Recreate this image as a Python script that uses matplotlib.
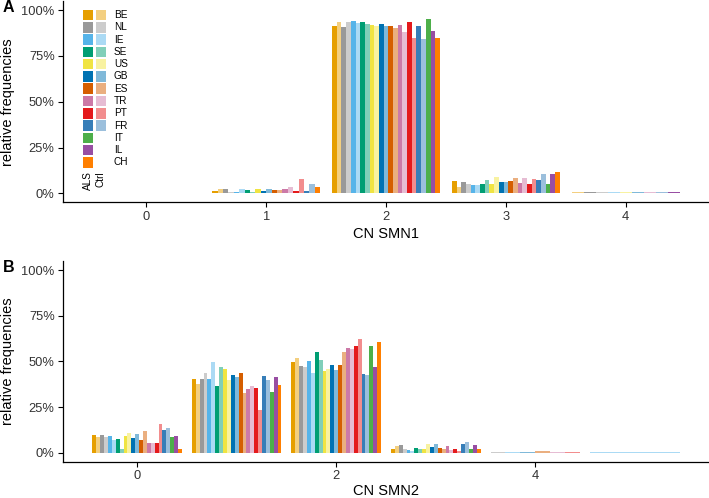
import matplotlib
matplotlib.use("Agg")
import matplotlib.pyplot as plt
import matplotlib.patches as mpatches
import numpy as np

plt.rcParams["font.family"] = ["Liberation Sans", "DejaVu Sans"]

W, H = 709, 498

# series order: country ALS, country Ctrl (first 10 countries), then ALS only
countries = ["BE", "NL", "IE", "SE", "US", "GB", "ES", "TR", "PT", "FR", "IT", "IL", "CH"]
ctrl_countries = ["BE", "NL", "IE", "SE", "US", "GB", "ES", "TR", "PT", "FR"]
als_colors = ["#E69F00", "#999999", "#56B4E9", "#009E73", "#F0E442", "#0072B2",
              "#D55E00", "#CC79A7", "#E41A1C", "#377EB8", "#4DAF4A", "#984EA3", "#FF7F00"]

# relative frequencies (%) per copy number, 23 series each, None = no bar
smn1_cn = [0, 1, 2, 3, 4]
smn1_cn0 = [None] * 23
smn1_cn1 = [1.5, 2.5, 2.5, 0.5, 0.7, 2.2, 1.8, 0.7, 2.2, None, 1.5, 2.2,
            2.0, 1.6, 2.2, 3.5, 1.3, 7.7, 1.3, 5.1, None, None, 3.6]
smn1_cn2 = [91.6, 93.8, 91.0, 93.6, 94.3, 93.2, 93.4, 92.3, 92.1, 91.4, 92.5, 91.2,
            91.4, 90.3, 91.7, 88.1, 93.4, 84.6, 91.2, 84.3, 95.1, 88.5, 84.7]
smn1_cn3 = [6.6, 3.6, 6.2, 5.3, 4.6, 4.4, 5.1, 7.3, 5.3, 9.1, 6.0, 6.2,
            6.7, 8.2, 5.8, 8.2, 5.3, 7.7, 7.5, 10.6, 4.9, 10.6, 11.7]
smn1_cn4 = [None, 0.6, 0.6, 0.6, None, 0.6, None, None, None, 0.6, None, 0.6,
            None, None, None, 0.6, None, None, None, 0.6, None, 1.0, None]

smn2_cn = [0, 1, 2, 3, 4, 5]
smn2_cn0 = [9.5, 8.6, 9.5, 8.8, 9.1, 6.9, 7.3, 1.8, 9.1, 10.8, 7.8, 10.0,
            6.8, 11.7, 5.5, 5.5, 5.5, 15.7, 12.2, 13.3, 8.4, 8.9, 2.2]
smn2_cn1 = [40.5, 37.6, 40.5, 43.4, 40.5, 49.6, 36.7, 46.9, 45.6, 39.8, 42.3, 41.4,
            43.6, 32.7, 34.7, 36.3, 35.6, 23.5, 42.0, 40.0, 33.4, 41.2, 37.0]
smn2_cn2 = [49.6, 52.0, 47.6, 46.9, 50.2, 43.8, 54.9, 50.7, 44.7, 46.0, 48.3, 45.4,
            48.3, 55.1, 57.6, 56.7, 58.6, 62.2, 43.1, 42.7, 58.2, 47.2, 60.4]
smn2_cn3 = [2.0, 3.5, 4.0, 2.2, 1.6, 0.7, 2.6, 2.0, 2.2, 4.7, 2.9, 4.7,
            2.4, 2.0, 3.6, 1.5, 2.0, 1.0, 4.6, 5.7, 1.8, 4.2, 2.2]
smn2_cn4 = [None, None, None, 0.4, None, 0.4, None, None, None, None, None, 0.4,
            None, 0.7, None, 0.4, None, 0.5, None, None, None, None, None]
smn2_cn5 = [None, None, None, None, None, 0.4, None, None, None, None, None, None,
            None, None, None, None, None, None, None, None, None, None, None]


def lighten(c, f=0.5):
    r, g, b = matplotlib.colors.to_rgb(c)
    return (r + (1 - r) * f, g + (1 - g) * f, b + (1 - b) * f)


series_colors = []
for name, col in zip(countries, als_colors):
    series_colors.append(col)
    if name in ctrl_countries:
        series_colors.append(lighten(col))


def dodge_bars(ax, cns, groups):
    # ggplot-like dodge: present bars share width 0.9
    for x, vals in zip(cns, groups):
        idx = [i for i, v in enumerate(vals) if v is not None]
        if not idx:
            continue
        w = 0.9 / len(idx)
        for k, i in enumerate(idx):
            ax.bar(x - 0.45 + (k + 0.5) * w, vals[i] / 100, width=w,
                   color=series_colors[i], linewidth=0)


def style_axis(ax, xlim, xticks, xlabel, xpad):
    ax.set_xlim(*xlim)
    ax.set_ylim(-0.05, 1.05)
    ax.set_xticks(xticks)
    ax.set_yticks([0, 0.25, 0.5, 0.75, 1.0])
    ax.set_yticklabels(["0%", "25%", "50%", "75%", "100%"])
    for s in ["top", "right"]:
        ax.spines[s].set_visible(False)
    for s in ["left", "bottom"]:
        ax.spines[s].set_linewidth(0.9)
    ax.tick_params(length=3.5, width=0.8, labelsize=9.3, labelcolor="#333333", pad=2.5)
    ax.set_xlabel(xlabel, fontsize=10.5, labelpad=xpad)
    ax.set_ylabel("relative frequencies", fontsize=10.5)
    ax.yaxis.set_label_coords(-0.074, 0.5)


def ax_rect(left, top, right, bottom):
    return [left / W, 1 - bottom / H, (right - left) / W, (bottom - top) / H]


fig = plt.figure(figsize=(W / 100, H / 100), dpi=100)
ax1 = fig.add_axes(ax_rect(63, 1, 709, 202.5))
ax2 = fig.add_axes(ax_rect(63, 261, 709, 461.8))

dodge_bars(ax1, smn1_cn, [smn1_cn0, smn1_cn1, smn1_cn2, smn1_cn3, smn1_cn4])
style_axis(ax1, (-0.695, 4.695), smn1_cn, "CN SMN1", 3)

dodge_bars(ax2, smn2_cn, [smn2_cn0, smn2_cn1, smn2_cn2, smn2_cn3, smn2_cn4, smn2_cn5])
style_axis(ax2, (-0.745, 5.745), [0, 2, 4], "CN SMN2", 1.5)

fig.text(3 / W, 1 - 12 / H, "A", fontsize=11.5, fontweight="bold")
fig.text(3 / W, 1 - 272 / H, "B", fontsize=11.5, fontweight="bold")

# legend drawn by hand: ALS column, Ctrl column, country labels
row0, dy, sq = 15, 12.28, 10.6
for r, (name, col) in enumerate(zip(countries, als_colors)):
    yc = row0 + r * dy
    fig.add_artist(mpatches.Rectangle((82.7 / W, 1 - (yc + sq / 2) / H), sq / W, sq / H,
                                      transform=fig.transFigure, color=col, lw=0))
    if name in ctrl_countries:
        fig.add_artist(mpatches.Rectangle((95.8 / W, 1 - (yc + sq / 2) / H), sq / W, sq / H,
                                          transform=fig.transFigure, color=lighten(col), lw=0))
    fig.text(114 / W, 1 - yc / H, name, fontsize=7.2, va="center", ha="left")
fig.text(88.2 / W, 1 - 171 / H, "ALS", fontsize=7.2, rotation=90, ha="center", va="top")
fig.text(101 / W, 1 - 171 / H, "Ctrl", fontsize=7.2, rotation=90, ha="center", va="top")

fig.savefig("out.png", dpi=100)
